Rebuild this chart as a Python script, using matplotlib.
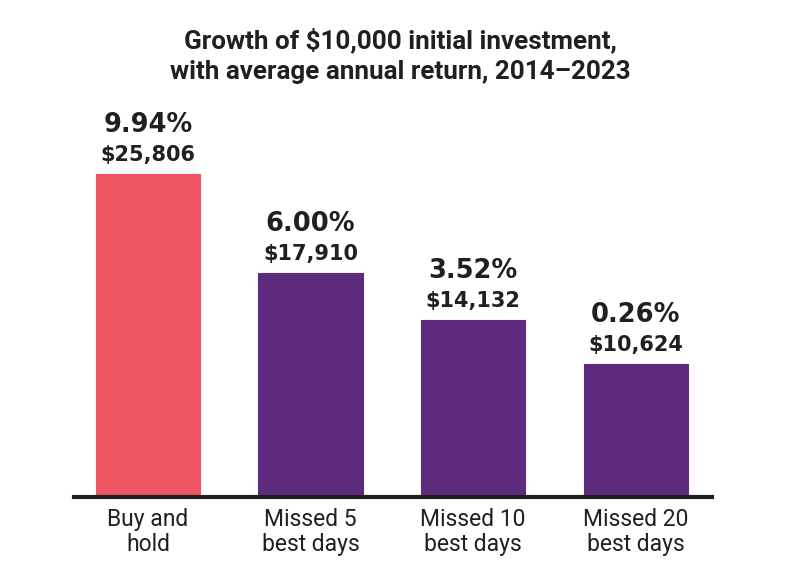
import matplotlib.pyplot as plt

categories = ["Buy and\nhold", "Missed 5\nbest days", "Missed 10\nbest days", "Missed 20\nbest days"]
values = [25806, 17910, 14132, 10624]
returns = ["9.94%", "6.00%", "3.52%", "0.26%"]
colors = ["#EF5563", "#5E2A7E", "#5E2A7E", "#5E2A7E"]

TXT = "#231F20"

fig = plt.figure(figsize=(8, 5.86), dpi=100)
ax = fig.add_axes([0.0925, 0.152, 0.7975, 0.641])

x = range(len(values))
ax.bar(x, values, width=0.64, color=colors, edgecolor=colors, linewidth=0.8, zorder=2)
ax.set_xlim(-0.455, 3.47)
ax.set_ylim(0, 30000)

# value labels above each bar
for i, v in enumerate(values):
    ax.annotate(f"${v:,}", (i, v), xytext=(0, 13.5), textcoords="offset points",
                ha="center", va="center", fontsize=15, fontweight="bold",
                family="DejaVu Sans", color=TXT)
    ax.annotate(returns[i], (i, v), xytext=(0, 35), textcoords="offset points",
                ha="center", va="center", fontsize=18.5, fontweight="bold",
                family="DejaVu Sans", color=TXT)

for s in ["top", "right", "left"]:
    ax.spines[s].set_visible(False)
ax.spines["bottom"].set_linewidth(3)
ax.spines["bottom"].set_color(TXT)
ax.set_yticks([])
ax.set_xticks(list(x))
ax.set_xticklabels(categories, fontsize=16.5, family="Roboto", color=TXT, linespacing=1.1)
ax.tick_params(axis="x", length=0, pad=8)

fig.text(0.5, 0.905, "Growth of $10,000 initial investment,\nwith average annual return, 2014\u20132023",
         ha="center", va="center", fontsize=18.7, fontweight="bold", family="Roboto",
         color=TXT, linespacing=1.35)

fig.savefig("out.png", dpi=100, facecolor="white")
